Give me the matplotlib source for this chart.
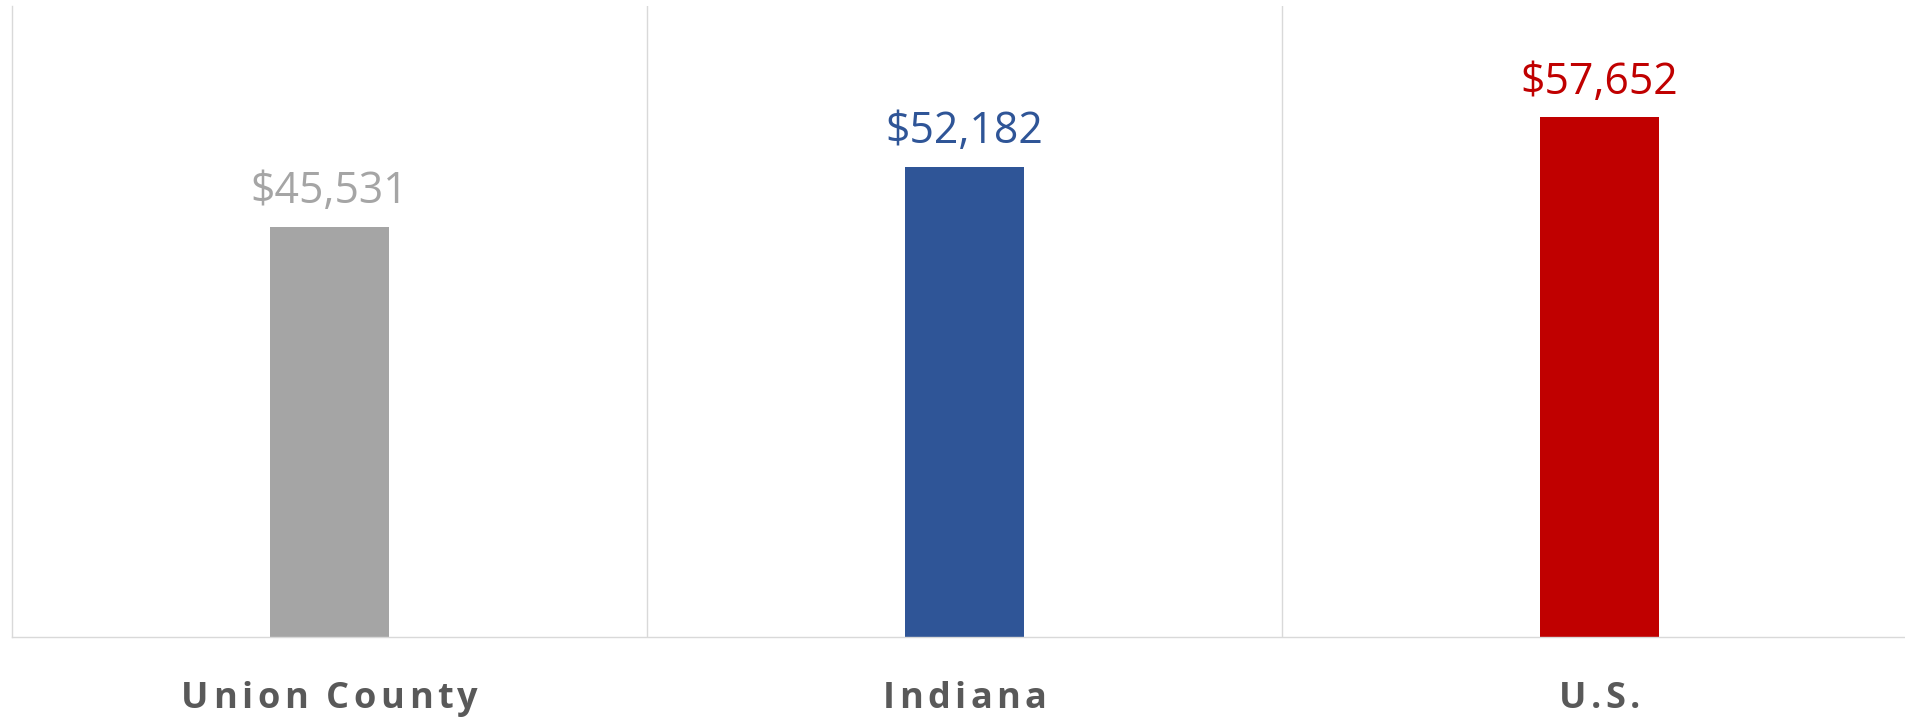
import matplotlib
matplotlib.use('Agg')
import matplotlib.pyplot as plt
from matplotlib.transforms import offset_copy

# data
areas = ['Union County', 'Indiana', 'U.S.']
income = [45531, 52182, 57652]
bar_colors = ['#a5a5a5', '#2f5597', '#c00000']

grid_color = '#d9d9d9'
label_color = '#595959'

fig = plt.figure(figsize=(19.06, 7.24), dpi=100)
ax = fig.add_axes([12 / 1906, 87 / 724, 1905 / 1906, 631 / 724])

x = list(range(len(areas)))
ax.bar(x, income, width=0.186, color=bar_colors, zorder=2)

ax.set_xlim(-0.5, len(areas) - 0.5)
ax.set_ylim(0, 70000)

# vertical separators between categories
for i in range(len(areas)):
    ax.axvline(i + 0.5, color=grid_color, lw=1.0, zorder=1)

for side in ['top', 'right']:
    ax.spines[side].set_visible(False)
for side in ['left', 'bottom']:
    ax.spines[side].set_color(grid_color)
    ax.spines[side].set_linewidth(1.0)

ax.set_xticks([])
ax.set_yticks([])

# value labels above bars
for i in range(len(areas)):
    ax.annotate(f'${income[i]:,}', (x[i], income[i]), xytext=(0, 17),
                textcoords='offset points', ha='center', va='baseline',
                fontsize=30.8, family='Open Sans', color=bar_colors[i])

# category labels with letter spacing, drawn char by char
renderer = fig.canvas.get_renderer()
lab_kw = dict(fontsize=26, family='Open Sans', fontweight='bold', color=label_color)
spacing = 4.5  # extra pixels between letters
base = ax.get_xaxis_transform()


def text_width(s):
    t = ax.text(0, 0, s, **lab_kw)
    w = t.get_window_extent(renderer).width
    t.remove()
    return w


bar_w = text_width('|')
for i in range(len(areas)):
    s = areas[i]
    total = text_width(s) + spacing * (len(s) - 1)
    start = -total / 2
    for j, ch in enumerate(s):
        if ch == ' ':
            continue
        pos = text_width(s[:j] + '|') - bar_w if j > 0 else 0
        tr = offset_copy(base, fig=fig, x=start + pos + spacing * j, y=0, units='dots')
        ax.text(x[i], -71 / 631, ch, transform=tr, ha='left', va='baseline',
                clip_on=False, **lab_kw)

fig.savefig('out.png', dpi=100)
